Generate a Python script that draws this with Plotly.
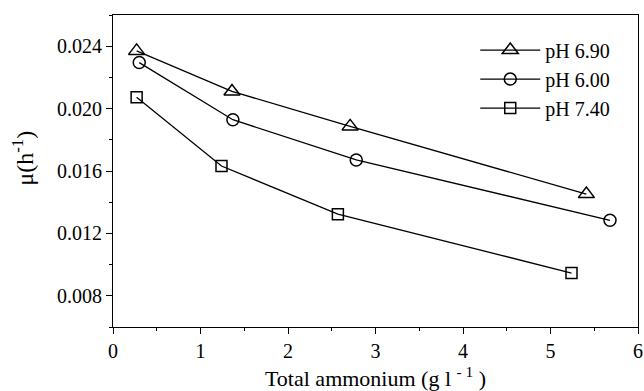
import plotly.graph_objects as go

# Specific growth rate vs total ammonium at three pH levels
ammonium_ph690 = [0.27, 1.36, 2.71, 5.41]
mu_ph690 = [0.02370, 0.02110, 0.01886, 0.01452]

ammonium_ph600 = [0.30, 1.37, 2.78, 5.68]
mu_ph600 = [0.02295, 0.01929, 0.01671, 0.01284]

ammonium_ph740 = [0.27, 1.24, 2.57, 5.24]
mu_ph740 = [0.02073, 0.01632, 0.01323, 0.00946]

series = [
    ("pH 6.90", ammonium_ph690, mu_ph690, "triangle-up-open", 14),
    ("pH 6.00", ammonium_ph600, mu_ph600, "circle-open", 12),
    ("pH 7.40", ammonium_ph740, mu_ph740, "square-open", 11),
]

font_family = "Liberation Serif, Times New Roman, serif"

fig = go.Figure()
for name, xs, ys, symbol, size in series:
    fig.add_trace(go.Scatter(
        x=xs, y=ys, name=name, mode="lines+markers",
        line=dict(color="black", width=1.3),
        marker=dict(symbol=symbol, size=size, color="black",
                    line=dict(color="black", width=1.5)),
    ))

axis_common = dict(
    showline=True, linecolor="black", linewidth=1.2, mirror=True,
    showgrid=False, zeroline=False, automargin=False,
    ticks="outside", ticklen=6, tickwidth=1.2, tickcolor="black",
    tickfont=dict(family=font_family, size=20, color="black"),
)

fig.update_xaxes(
    range=[0, 6], dtick=1, tick0=0,
    minor=dict(dtick=0.5, ticks="outside", ticklen=3, tickwidth=1, tickcolor="black"),
    title=dict(text="Total ammonium (g l <sup>- 1</sup> )",
               font=dict(family=font_family, size=22, color="black"), standoff=10),
    **axis_common,
)
fig.update_yaxes(
    range=[0.006, 0.026], dtick=0.004, tick0=0.008, tickformat=".3f",
    minor=dict(dtick=0.002, ticks="outside", ticklen=3, tickwidth=1, tickcolor="black"),
    **axis_common,
)

# y-axis title placed as a rotated annotation left of the tick labels
fig.add_annotation(
    text="μ(h<sup>-1</sup>)", textangle=-90,
    xref="paper", yref="paper", x=-0.173, y=0.54,
    xanchor="center", yanchor="middle", showarrow=False,
    font=dict(family=font_family, size=24, color="black"),
)

fig.update_layout(
    width=644, height=391,
    margin=dict(l=113, r=6, t=15, b=64),
    paper_bgcolor="white", plot_bgcolor="white",
    font=dict(family=font_family, size=20, color="black"),
    showlegend=True,
    legend=dict(
        x=0.69, y=0.95, xanchor="left", yanchor="top",
        bgcolor="rgba(0,0,0,0)", borderwidth=0,
        font=dict(family=font_family, size=20, color="black"),
        itemwidth=60, tracegroupgap=0,
    ),
)

fig.write_html("out.html")
